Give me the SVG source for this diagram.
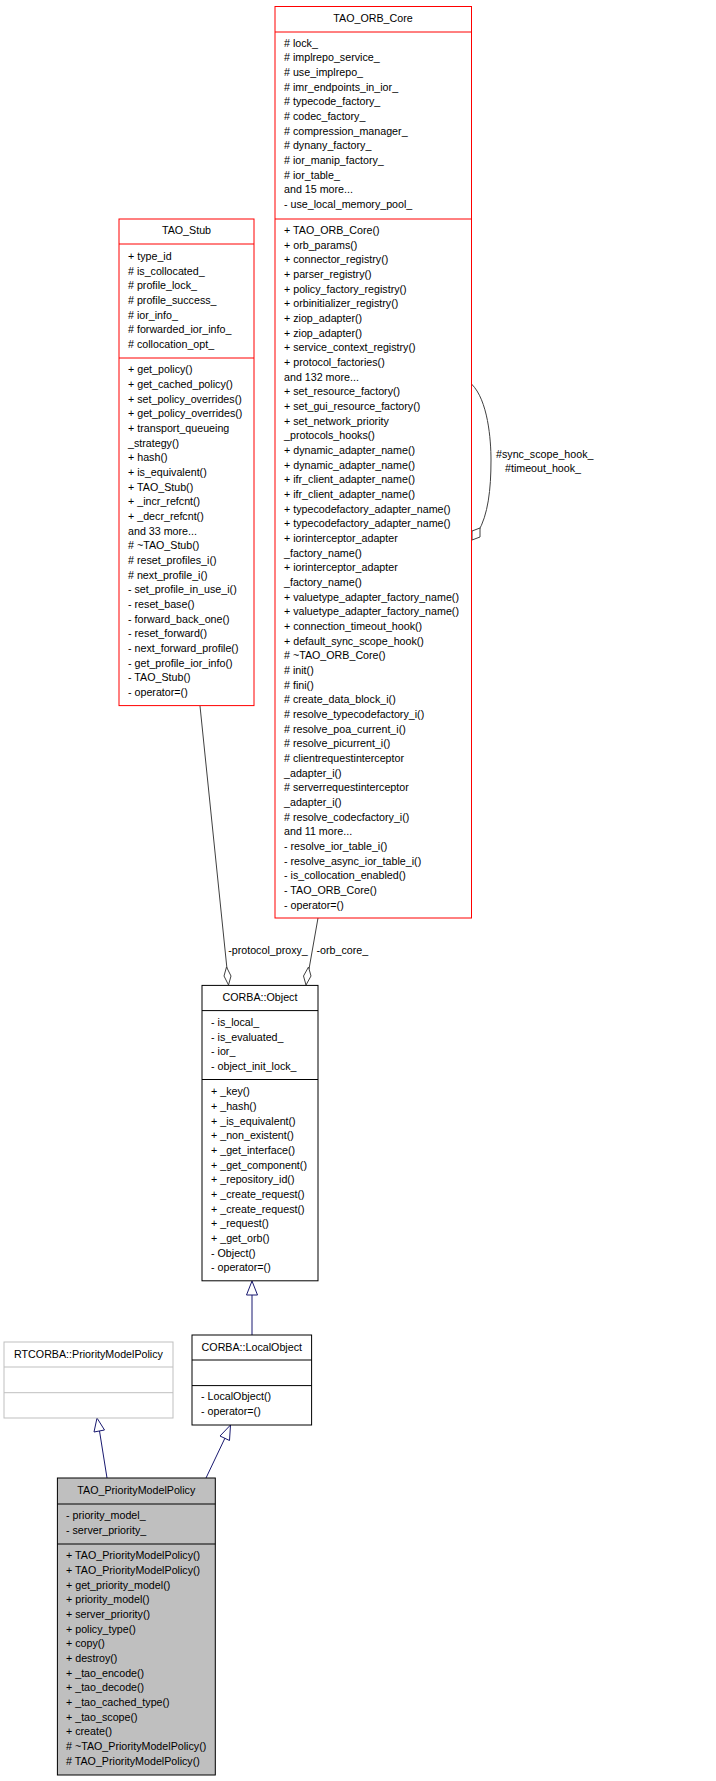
<svg xmlns="http://www.w3.org/2000/svg" width="716" height="1781" viewBox="0 0 716 1781">
<style>
text{font-family:"Liberation Sans",Arial,sans-serif;font-size:10.7px;fill:#000}
.t{text-anchor:middle}
.red{fill:#fff;stroke:#ff0000;stroke-width:1}
.blk{fill:#fff;stroke:#000;stroke-width:1}
.gry{fill:#fff;stroke:#bfbfbf;stroke-width:1}
.sel{fill:#bfbfbf;stroke:#000;stroke-width:1}
.e{fill:none;stroke:#404040;stroke-width:1}
.inh{fill:none;stroke:#191970;stroke-width:1}
.tri{fill:#fff;stroke:#191970;stroke-width:1}
.dia{fill:#fff;stroke:#404040;stroke-width:1}
</style>
<rect width="716" height="1781" fill="#fff"/>
<g id="connectors">
<path class="e" d="M200,706 L227,969"/>
<polygon class="dia" points="228.5,985 224,976 226.5,967 231,976"/>
<path class="e" d="M318,918 L309,969"/>
<polygon class="dia" points="306,985 303.5,976 308.5,967 311,976"/>
<path class="e" d="M471.5,384 C488,400 491,440 491,460 C491,490 488,515 478,532"/>
<polygon class="dia" points="472,540 472,531 480,528 480,537"/>
<text x="496" y="458">#sync_scope_hook_</text>
<text x="543" y="472" class="t">#timeout_hook_</text>
<text x="268" y="954" class="t">-protocol_proxy_</text>
<text x="316.5" y="954">-orb_core_</text>
<path class="inh" d="M252,1335 L252,1295"/>
<polygon class="tri" points="252,1281 246.5,1295 257.5,1295"/>
<path class="inh" d="M107,1478 L99.5,1431"/>
<polygon class="tri" points="97,1418 94,1432 104.5,1430"/>
<path class="inh" d="M206,1478 L225,1438"/>
<polygon class="tri" points="230.5,1425 220,1436 229.5,1440.5"/>
</g>
<g id="TAO_ORB_Core">
<rect class="red" x="275" y="6.5" width="196.5" height="911.5"/>
<line class="red" x1="275" y1="32" x2="471.5" y2="32"/>
<line class="red" x1="275" y1="219" x2="471.5" y2="219"/>
<text x="373" y="22" class="t">TAO_ORB_Core</text>
<text x="284" y="46.7"><tspan x="284"># lock_</tspan><tspan x="284" dy="14.67"># implrepo_service_</tspan><tspan x="284" dy="14.67"># use_implrepo_</tspan><tspan x="284" dy="14.67"># imr_endpoints_in_ior_</tspan><tspan x="284" dy="14.67"># typecode_factory_</tspan><tspan x="284" dy="14.67"># codec_factory_</tspan><tspan x="284" dy="14.67"># compression_manager_</tspan><tspan x="284" dy="14.67"># dynany_factory_</tspan><tspan x="284" dy="14.67"># ior_manip_factory_</tspan><tspan x="284" dy="14.67"># ior_table_</tspan><tspan x="284" dy="14.67">and 15 more...</tspan><tspan x="284" dy="14.67">- use_local_memory_pool_</tspan></text>
<text x="284" y="234"><tspan x="284">+ TAO_ORB_Core()</tspan><tspan x="284" dy="14.67">+ orb_params()</tspan><tspan x="284" dy="14.67">+ connector_registry()</tspan><tspan x="284" dy="14.67">+ parser_registry()</tspan><tspan x="284" dy="14.67">+ policy_factory_registry()</tspan><tspan x="284" dy="14.67">+ orbinitializer_registry()</tspan><tspan x="284" dy="14.67">+ ziop_adapter()</tspan><tspan x="284" dy="14.67">+ ziop_adapter()</tspan><tspan x="284" dy="14.67">+ service_context_registry()</tspan><tspan x="284" dy="14.67">+ protocol_factories()</tspan><tspan x="284" dy="14.67">and 132 more...</tspan><tspan x="284" dy="14.67">+ set_resource_factory()</tspan><tspan x="284" dy="14.67">+ set_gui_resource_factory()</tspan><tspan x="284" dy="14.67">+ set_network_priority</tspan><tspan x="284" dy="14.67">_protocols_hooks()</tspan><tspan x="284" dy="14.67">+ dynamic_adapter_name()</tspan><tspan x="284" dy="14.67">+ dynamic_adapter_name()</tspan><tspan x="284" dy="14.67">+ ifr_client_adapter_name()</tspan><tspan x="284" dy="14.67">+ ifr_client_adapter_name()</tspan><tspan x="284" dy="14.67">+ typecodefactory_adapter_name()</tspan><tspan x="284" dy="14.67">+ typecodefactory_adapter_name()</tspan><tspan x="284" dy="14.67">+ iorinterceptor_adapter</tspan><tspan x="284" dy="14.67">_factory_name()</tspan><tspan x="284" dy="14.67">+ iorinterceptor_adapter</tspan><tspan x="284" dy="14.67">_factory_name()</tspan><tspan x="284" dy="14.67">+ valuetype_adapter_factory_name()</tspan><tspan x="284" dy="14.67">+ valuetype_adapter_factory_name()</tspan><tspan x="284" dy="14.67">+ connection_timeout_hook()</tspan><tspan x="284" dy="14.67">+ default_sync_scope_hook()</tspan><tspan x="284" dy="14.67"># ~TAO_ORB_Core()</tspan><tspan x="284" dy="14.67"># init()</tspan><tspan x="284" dy="14.67"># fini()</tspan><tspan x="284" dy="14.67"># create_data_block_i()</tspan><tspan x="284" dy="14.67"># resolve_typecodefactory_i()</tspan><tspan x="284" dy="14.67"># resolve_poa_current_i()</tspan><tspan x="284" dy="14.67"># resolve_picurrent_i()</tspan><tspan x="284" dy="14.67"># clientrequestinterceptor</tspan><tspan x="284" dy="14.67">_adapter_i()</tspan><tspan x="284" dy="14.67"># serverrequestinterceptor</tspan><tspan x="284" dy="14.67">_adapter_i()</tspan><tspan x="284" dy="14.67"># resolve_codecfactory_i()</tspan><tspan x="284" dy="14.67">and 11 more...</tspan><tspan x="284" dy="14.67">- resolve_ior_table_i()</tspan><tspan x="284" dy="14.67">- resolve_async_ior_table_i()</tspan><tspan x="284" dy="14.67">- is_collocation_enabled()</tspan><tspan x="284" dy="14.67">- TAO_ORB_Core()</tspan><tspan x="284" dy="14.67">- operator=()</tspan></text>
</g>
<g id="TAO_Stub">
<rect class="red" x="119" y="219" width="135" height="486.6"/>
<line class="red" x1="119" y1="244" x2="254" y2="244"/>
<line class="red" x1="119" y1="358" x2="254" y2="358"/>
<text x="186.5" y="234" class="t">TAO_Stub</text>
<text x="128" y="260"><tspan x="128">+ type_id</tspan><tspan x="128" dy="14.67"># is_collocated_</tspan><tspan x="128" dy="14.67"># profile_lock_</tspan><tspan x="128" dy="14.67"># profile_success_</tspan><tspan x="128" dy="14.67"># ior_info_</tspan><tspan x="128" dy="14.67"># forwarded_ior_info_</tspan><tspan x="128" dy="14.67"># collocation_opt_</tspan></text>
<text x="128" y="373.3"><tspan x="128">+ get_policy()</tspan><tspan x="128" dy="14.67">+ get_cached_policy()</tspan><tspan x="128" dy="14.67">+ set_policy_overrides()</tspan><tspan x="128" dy="14.67">+ get_policy_overrides()</tspan><tspan x="128" dy="14.67">+ transport_queueing</tspan><tspan x="128" dy="14.67">_strategy()</tspan><tspan x="128" dy="14.67">+ hash()</tspan><tspan x="128" dy="14.67">+ is_equivalent()</tspan><tspan x="128" dy="14.67">+ TAO_Stub()</tspan><tspan x="128" dy="14.67">+ _incr_refcnt()</tspan><tspan x="128" dy="14.67">+ _decr_refcnt()</tspan><tspan x="128" dy="14.67">and 33 more...</tspan><tspan x="128" dy="14.67"># ~TAO_Stub()</tspan><tspan x="128" dy="14.67"># reset_profiles_i()</tspan><tspan x="128" dy="14.67"># next_profile_i()</tspan><tspan x="128" dy="14.67">- set_profile_in_use_i()</tspan><tspan x="128" dy="14.67">- reset_base()</tspan><tspan x="128" dy="14.67">- forward_back_one()</tspan><tspan x="128" dy="14.67">- reset_forward()</tspan><tspan x="128" dy="14.67">- next_forward_profile()</tspan><tspan x="128" dy="14.67">- get_profile_ior_info()</tspan><tspan x="128" dy="14.67">- TAO_Stub()</tspan><tspan x="128" dy="14.67">- operator=()</tspan></text>
</g>
<g id="CORBA_Object">
<rect class="blk" x="202" y="985.4" width="116" height="295.4"/>
<line class="blk" x1="202" y1="1010.6" x2="318" y2="1010.6"/>
<line class="blk" x1="202" y1="1079.5" x2="318" y2="1079.5"/>
<text x="260" y="1001" class="t">CORBA::Object</text>
<text x="211" y="1026"><tspan x="211">- is_local_</tspan><tspan x="211" dy="14.67">- is_evaluated_</tspan><tspan x="211" dy="14.67">- ior_</tspan><tspan x="211" dy="14.67">- object_init_lock_</tspan></text>
<text x="211" y="1095.4"><tspan x="211">+  _key()</tspan><tspan x="211" dy="14.67">+  _hash()</tspan><tspan x="211" dy="14.67">+  _is_equivalent()</tspan><tspan x="211" dy="14.67">+  _non_existent()</tspan><tspan x="211" dy="14.67">+  _get_interface()</tspan><tspan x="211" dy="14.67">+  _get_component()</tspan><tspan x="211" dy="14.67">+  _repository_id()</tspan><tspan x="211" dy="14.67">+  _create_request()</tspan><tspan x="211" dy="14.67">+  _create_request()</tspan><tspan x="211" dy="14.67">+  _request()</tspan><tspan x="211" dy="14.67">+  _get_orb()</tspan><tspan x="211" dy="14.67">- Object()</tspan><tspan x="211" dy="14.67">- operator=()</tspan></text>
</g>
<g id="RTCORBA_PriorityModelPolicy">
<rect class="gry" x="4" y="1342" width="169" height="76"/>
<line class="gry" x1="4" y1="1367" x2="173" y2="1367"/>
<line class="gry" x1="4" y1="1392.7" x2="173" y2="1392.7"/>
<text x="88.5" y="1357.5" class="t">RTCORBA::PriorityModelPolicy</text>
</g>
<g id="CORBA_LocalObject">
<rect class="blk" x="192" y="1335" width="119.6" height="90"/>
<line class="blk" x1="192" y1="1360" x2="311.6" y2="1360"/>
<line class="blk" x1="192" y1="1385.6" x2="311.6" y2="1385.6"/>
<text x="251.8" y="1350.5" class="t">CORBA::LocalObject</text>
<text x="201" y="1400"><tspan x="201">- LocalObject()</tspan><tspan x="201" dy="14.67">- operator=()</tspan></text>
</g>
<g id="TAO_PriorityModelPolicy">
<rect class="sel" x="57.4" y="1478" width="157.9" height="297"/>
<line class="blk" x1="57.4" y1="1504" x2="215.3" y2="1504"/>
<line class="blk" x1="57.4" y1="1544" x2="215.3" y2="1544"/>
<text x="136.3" y="1494" class="t">TAO_PriorityModelPolicy</text>
<text x="66" y="1519.4"><tspan x="66">- priority_model_</tspan><tspan x="66" dy="14.67">- server_priority_</tspan></text>
<text x="66" y="1559.4"><tspan x="66">+ TAO_PriorityModelPolicy()</tspan><tspan x="66" dy="14.67">+ TAO_PriorityModelPolicy()</tspan><tspan x="66" dy="14.67">+ get_priority_model()</tspan><tspan x="66" dy="14.67">+ priority_model()</tspan><tspan x="66" dy="14.67">+ server_priority()</tspan><tspan x="66" dy="14.67">+ policy_type()</tspan><tspan x="66" dy="14.67">+ copy()</tspan><tspan x="66" dy="14.67">+ destroy()</tspan><tspan x="66" dy="14.67">+ _tao_encode()</tspan><tspan x="66" dy="14.67">+ _tao_decode()</tspan><tspan x="66" dy="14.67">+ _tao_cached_type()</tspan><tspan x="66" dy="14.67">+ _tao_scope()</tspan><tspan x="66" dy="14.67">+ create()</tspan><tspan x="66" dy="14.67"># ~TAO_PriorityModelPolicy()</tspan><tspan x="66" dy="14.67"># TAO_PriorityModelPolicy()</tspan></text>
</g>
</svg>
